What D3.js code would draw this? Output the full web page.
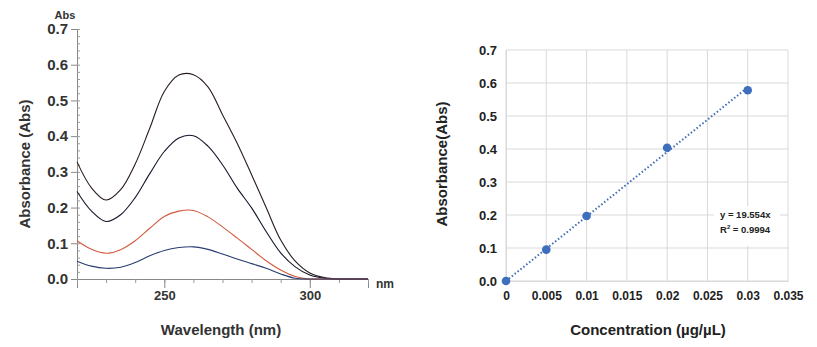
<!DOCTYPE html>
<html><head><meta charset="utf-8">
<script src="https://cdn.jsdelivr.net/npm/d3@7"></script>
<style>
body{margin:0;background:#fff;}
svg{display:block;font-family:"Liberation Sans",Arial,sans-serif;}
</style></head>
<body><svg id="c" width="817" height="347"></svg>
<script>
// ---- Data: spectra (left) ----
const wavelengths = [220,225,230,235,240,245,250,255,260,265,270,275,280,285,290,295,300,305,310,315,320];
const spec030 = [0.328,0.255,0.221,0.250,0.322,0.422,0.525,0.571,0.572,0.538,0.460,0.381,0.292,0.200,0.109,0.050,0.017,0.004,0.000,0.000,0.000];
const spec020 = [0.245,0.190,0.161,0.180,0.228,0.295,0.357,0.395,0.401,0.372,0.320,0.255,0.199,0.133,0.073,0.034,0.011,0.002,0.000,0.000,0.000];
const spec010 = [0.107,0.083,0.072,0.082,0.107,0.142,0.175,0.190,0.192,0.174,0.146,0.115,0.083,0.051,0.025,0.007,0.000,0.000,0.000,0.000,0.000];
const spec005 = [0.050,0.036,0.030,0.033,0.046,0.065,0.080,0.088,0.090,0.083,0.070,0.056,0.043,0.030,0.014,0.002,0.000,0.000,0.000,0.000,0.000];
const specColors = ["#2a1c1c","#15152a","#d35a3f","#2a3d70"];
const specYTicks = [0,0.1,0.2,0.3,0.4,0.5,0.6,0.7];
const specXTicks = [250,300];

// ---- Data: calibration (right) ----
const concentrations = [0,0.005,0.01,0.02,0.03];
const absorbances = [0,0.095,0.197,0.404,0.578];
const slope = 19.554;
const r2 = 0.9994;
const calXTicks = [0,0.005,0.01,0.015,0.02,0.025,0.03,0.035];
const calYTicks = [0,0.1,0.2,0.3,0.4,0.5,0.6,0.7];

const svg = d3.select("#c");

// ===== Left chart =====
const L = {x0:77, x1:368, y0:279, y1:29};
const lx = d3.scaleLinear().domain([220,320]).range([L.x0,L.x1]);
const ly = d3.scaleLinear().domain([0,0.7]).range([L.y0,L.y1]);
const gl = svg.append("g");

// y axis
const yAx = gl.append("g").attr("transform",`translate(${L.x0},0)`)
  .call(d3.axisLeft(ly).tickValues(specYTicks).tickFormat(d3.format(".1f")).tickSize(6).tickPadding(3));
yAx.select(".domain").attr("stroke","#888");
yAx.selectAll(".tick line").attr("stroke","#888");
yAx.selectAll("text").attr("font-size",15).attr("font-weight","bold").attr("fill","#333");
const yMinor = gl.append("g").attr("transform",`translate(${L.x0},0)`)
  .call(d3.axisRight(ly).tickValues(d3.range(0,0.7001,0.02)).tickFormat("").tickSize(3));
yMinor.select(".domain").remove();
yMinor.selectAll("line").attr("stroke","#999");

// x axis
const xAx = gl.append("g").attr("transform",`translate(0,${L.y0})`)
  .call(d3.axisBottom(lx).tickValues(specXTicks).tickFormat(d3.format("d")).tickSize(9).tickPadding(3));
xAx.select(".domain").attr("stroke","#888");
xAx.selectAll(".tick line").attr("stroke","#888");
xAx.selectAll("text").attr("font-size",13).attr("font-weight","bold").attr("fill","#333");
const xMinor = gl.append("g").attr("transform",`translate(0,${L.y0})`)
  .call(d3.axisBottom(lx).tickValues(d3.range(220,321,10)).tickFormat("").tickSize(4));
xMinor.select(".domain").remove();
xMinor.selectAll("line").attr("stroke","#999");

const specs = [spec030,spec020,spec010,spec005];
const line = d3.line().x((d,i)=>lx(wavelengths[i])).y(d=>ly(d)).curve(d3.curveCatmullRom.alpha(0.5));
specs.forEach((s,k)=>{
  gl.append("path").datum(s).attr("d",line).attr("fill","none")
    .attr("stroke",specColors[k]).attr("stroke-width",1.1);
});

gl.append("text").attr("x",65).attr("y",19).attr("text-anchor","middle")
  .attr("font-size",11).attr("font-weight","bold").attr("fill","#333").text("Abs");
gl.append("text").attr("x",376).attr("y",288)
  .attr("font-size",12).attr("font-weight","bold").attr("fill","#333").text("nm");
gl.append("text").attr("x",221).attr("y",335).attr("text-anchor","middle")
  .attr("font-size",15).attr("font-weight","bold").attr("fill","#333").text("Wavelength (nm)");
gl.append("text").attr("transform","translate(26,164) rotate(-90)").attr("text-anchor","middle")
  .attr("dominant-baseline","middle")
  .attr("font-size",15).attr("font-weight","bold").attr("fill","#333").text("Absorbance (Abs)");

// ===== Right chart =====
const R = {x0:506, x1:788, y0:281, y1:50};
const rx = d3.scaleLinear().domain([0,0.035]).range([R.x0,R.x1]);
const ry = d3.scaleLinear().domain([0,0.7]).range([R.y0,R.y1]);
const gr = svg.append("g");

// grid
gr.append("g").selectAll("line").data(calXTicks).join("line")
  .attr("x1",d=>rx(d)).attr("x2",d=>rx(d)).attr("y1",R.y0).attr("y2",R.y1)
  .attr("stroke","#d9d9d9").attr("stroke-width",1);
gr.append("g").selectAll("line").data(calYTicks).join("line")
  .attr("x1",R.x0).attr("x2",R.x1).attr("y1",d=>ry(d)).attr("y2",d=>ry(d))
  .attr("stroke","#d9d9d9").attr("stroke-width",1);

const ryAx = gr.append("g").attr("transform",`translate(${R.x0},0)`)
  .call(d3.axisLeft(ry).tickValues(calYTicks).tickFormat(d3.format(".1f")).tickSize(0).tickPadding(9));
ryAx.select(".domain").attr("stroke","#d9d9d9");
ryAx.selectAll("text").attr("font-size",13).attr("font-weight","bold").attr("fill","#222");
const rxAx = gr.append("g").attr("transform",`translate(0,${R.y0})`)
  .call(d3.axisBottom(rx).tickValues(calXTicks).tickFormat(d=>d3.format("")(+d.toFixed(3))).tickSize(0).tickPadding(10));
rxAx.select(".domain").attr("stroke","#d9d9d9");
rxAx.selectAll("text").attr("font-size",12).attr("font-weight","bold").attr("fill","#222");

// trendline
gr.append("line")
  .attr("x1",rx(0)).attr("y1",ry(0))
  .attr("x2",rx(d3.max(concentrations))).attr("y2",ry(slope*d3.max(concentrations)))
  .attr("stroke","#3f6db5").attr("stroke-width",2).attr("stroke-dasharray","1.5,2.2");

gr.selectAll("circle").data(concentrations).join("circle")
  .attr("cx",d=>rx(d)).attr("cy",(d,i)=>ry(absorbances[i])).attr("r",4.3)
  .attr("fill","#3d6fbd");

// annotation box
gr.append("rect").attr("x",714).attr("y",206).attr("width",66).attr("height",40).attr("fill","#fff");
gr.append("text").attr("x",720).attr("y",218).attr("font-size",9.5).attr("font-weight","bold").attr("fill","#222")
  .text(`y = ${slope}x`);
const t2 = gr.append("text").attr("x",720).attr("y",233).attr("font-size",9.5).attr("font-weight","bold").attr("fill","#222");
t2.append("tspan").text("R");
t2.append("tspan").attr("font-size",6).attr("dy",-4).text("2");
t2.append("tspan").attr("dy",4).text(` = ${r2}`);

gr.append("text").attr("x",648).attr("y",335).attr("text-anchor","middle")
  .attr("font-size",15).attr("font-weight","bold").attr("fill","#222").text("Concentration (µg/µL)");
gr.append("text").attr("transform","translate(443,164) rotate(-90)").attr("text-anchor","middle")
  .attr("dominant-baseline","middle")
  .attr("font-size",15).attr("font-weight","bold").attr("fill","#222").text("Absorbance(Abs)");
</script></body></html>
